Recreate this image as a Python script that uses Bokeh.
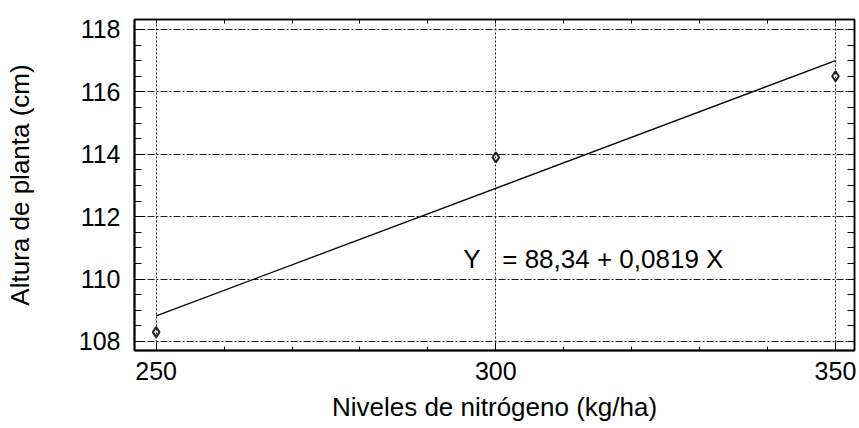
from bokeh.plotting import figure
from bokeh.models import FixedTicker, LinearAxis, Label, Range1d
from bokeh.embed import file_html
from bokeh.resources import INLINE

# Data
nitrogen = [250, 300, 350]
height = [108.3, 113.9, 116.5]
fit_x = [250, 350]
fit_y = [108.82, 117.0]
x_ticks = [250, 300, 350]
x_minor = [250, 260, 270, 280, 290, 300, 310, 320, 330, 340, 350]
y_ticks = [108, 110, 112, 114, 116, 118]
y_minor = [108.0, 108.5, 109.0, 109.5, 110.0, 110.5, 111.0, 111.5, 112.0, 112.5,
           113.0, 113.5, 114.0, 114.5, 115.0, 115.5, 116.0, 116.5, 117.0, 117.5, 118.0]
equation = "Y\u00a0\u00a0\u00a0= 88,34 + 0,0819 X"
x_title = "Niveles de nitrógeno (kg/ha)"
y_title = "Altura de planta (cm)"

FONT = "Liberation Sans"

p = figure(frame_width=720, frame_height=331,
           x_range=Range1d(246.81, 352.8), y_range=Range1d(107.71, 118.32),
           output_backend="svg", toolbar_location=None,
           min_border_left=134, min_border_top=19, min_border_bottom=78, min_border_right=5,
           background_fill_color="white", border_fill_color="white")

p.outline_line_color = "black"
p.outline_line_width = 1.5

xt = FixedTicker(ticks=x_ticks, minor_ticks=x_minor)
yt = FixedTicker(ticks=y_ticks, minor_ticks=y_minor)

xa = p.xaxis[0]
xa.ticker = xt
xa.axis_label = x_title
xa.axis_label_text_font = FONT
xa.axis_label_text_font_size = "26px"
xa.axis_label_text_font_style = "normal"
xa.axis_label_text_color = "black"
xa.axis_label_standoff = 9
xa.major_label_text_font = FONT
xa.major_label_text_font_size = "25px"
xa.major_label_text_color = "black"
xa.major_label_standoff = 11
xa.major_tick_in = 8
xa.major_tick_out = 0
xa.minor_tick_in = 4
xa.minor_tick_out = 0
xa.axis_line_width = 2
xa.major_tick_line_color = "black"
xa.minor_tick_line_color = "black"

ya = p.yaxis[0]
ya.ticker = yt
ya.axis_label = y_title
ya.axis_label_text_font = FONT
ya.axis_label_text_font_size = "26px"
ya.axis_label_text_font_style = "normal"
ya.axis_label_text_color = "black"
ya.axis_label_standoff = 41
ya.major_label_text_font = FONT
ya.major_label_text_font_size = "25px"
ya.major_label_text_color = "black"
ya.major_label_standoff = 14
ya.major_tick_in = 10
ya.major_tick_out = 0
ya.minor_tick_in = 7
ya.minor_tick_out = 0
ya.axis_line_width = 2
ya.major_tick_line_color = "black"
ya.minor_tick_line_color = "black"

# top and right axes: tick marks only, no labels
for loc, minor, mtin in (("above", x_minor, 4), ("right", y_minor, 7)):
    ax = LinearAxis(ticker=FixedTicker(ticks=[], minor_ticks=minor))
    ax.major_label_standoff = 0
    ax.major_tick_in = 0
    ax.major_tick_out = 0
    ax.minor_tick_in = mtin
    ax.minor_tick_out = 0
    ax.minor_tick_line_color = "black"
    ax.axis_line_width = 1.5
    p.add_layout(ax, loc)

p.xgrid.grid_line_color = "#1a1a1a"
p.xgrid.grid_line_dash = "2 2"
p.xgrid.grid_line_width = 1
p.ygrid.grid_line_color = "#1a1a1a"
p.ygrid.grid_line_dash = "7 2 2 2"
p.ygrid.grid_line_width = 1

p.line(fit_x, fit_y, line_color="black", line_width=1.3)
p.scatter(nitrogen, height, marker="diamond", size=10, fill_color=None,
          line_color="#222222", line_width=2)

p.add_layout(Label(x=295.2, y=110.65, text=equation, text_font=FONT,
                   text_font_size="26px", text_color="black",
                   text_baseline="alphabetic"))

open("out.html", "w").write(file_html(p, INLINE))
